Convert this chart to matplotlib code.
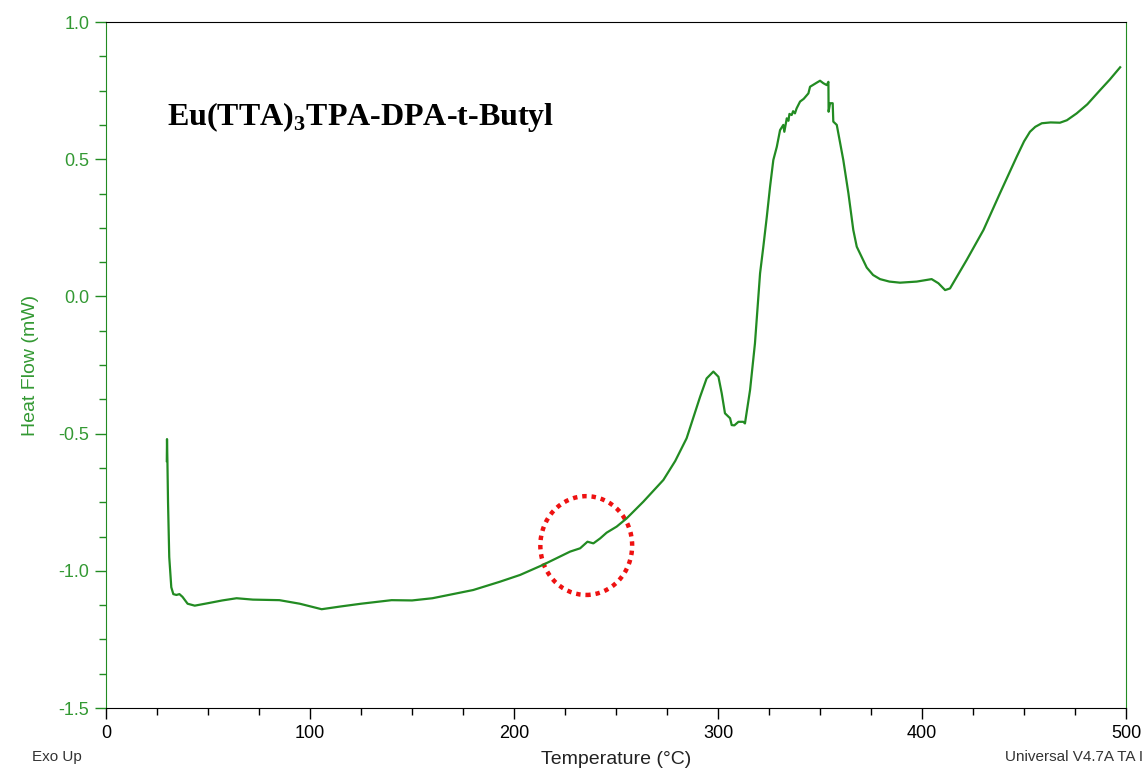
import matplotlib
matplotlib.use('Agg')
from matplotlib import pyplot as plt
from matplotlib.patches import Ellipse
from matplotlib.ticker import MultipleLocator, FormatStrFormatter

# DSC trace: temperature (°C) and heat flow (mW)
temperature = [29.8, 29.9, 30.1, 30.4, 31.0, 32.0, 33.0, 34.5, 36.0, 37.5,
               40.0, 43.5, 50.0, 57.0, 64.0, 72.0, 85.0, 95.0, 105.7, 115.0,
               125.0, 140.0, 150.0, 160.0, 170.0, 180.0, 193.0, 203.0, 214.0, 227.5,
               232.4, 236.0, 238.9, 242.2, 245.4, 250.3, 255.2, 263.4, 273.2, 279.0,
               284.6, 291.2, 294.4, 297.7, 300.2, 301.8, 303.4, 305.9, 306.7, 308.0,
               310.0, 312.4, 313.2, 315.7, 318.1, 320.6, 322.2, 323.9, 325.5, 327.1,
               328.8, 330.4, 332.0, 332.5, 333.7, 334.5, 335.0, 336.1, 336.8, 337.7,
               338.5, 340.2, 342.0, 344.3, 345.1, 348.4, 350.0, 351.6, 353.3, 354.1,
               354.2, 354.9, 356.2, 356.5, 358.2, 361.4, 363.9, 366.3, 368.0, 370.0,
               372.9, 376.0, 379.4, 384.0, 389.2, 397.4, 404.7, 408.0, 411.3, 413.7,
               421.9, 430.1, 438.2, 446.4, 450.0, 452.9, 455.5, 458.7, 463.0, 467.6,
               471.0, 475.8, 481.0, 487.3, 492.0, 497.1]
heat_flow = [-0.60, -0.52, -0.60, -0.75, -0.95, -1.06, -1.085, -1.088, -1.085, -1.095,
             -1.12, -1.127, -1.118, -1.108, -1.100, -1.105, -1.107, -1.120, -1.140, -1.130,
             -1.120, -1.107, -1.108, -1.100, -1.085, -1.070, -1.040, -1.015, -0.979, -0.930,
             -0.918, -0.894, -0.900, -0.882, -0.861, -0.839, -0.809, -0.748, -0.669, -0.600,
             -0.517, -0.366, -0.299, -0.274, -0.293, -0.353, -0.426, -0.444, -0.469, -0.470,
             -0.457, -0.457, -0.463, -0.341, -0.171, 0.084, 0.181, 0.290, 0.400, 0.497,
             0.545, 0.606, 0.625, 0.600, 0.649, 0.640, 0.665, 0.661, 0.675, 0.667,
             0.685, 0.710, 0.720, 0.740, 0.764, 0.779, 0.786, 0.777, 0.770, 0.782,
             0.673, 0.704, 0.704, 0.637, 0.625, 0.497, 0.376, 0.242, 0.181, 0.150,
             0.105, 0.078, 0.063, 0.054, 0.050, 0.054, 0.063, 0.048, 0.023, 0.029,
             0.133, 0.242, 0.376, 0.509, 0.565, 0.600, 0.618, 0.631, 0.634, 0.633,
             0.642, 0.667, 0.700, 0.752, 0.790, 0.835]

# highlighted region (centre and extent)
mark_center = (235.4, -0.908)
mark_size = (45.0, 0.36)

title = 'Eu(TTA)$_\\mathrm{3}$TPA-DPA-t-Butyl'

GREEN = '#228B22'
LABEL_GREEN = '#339933'

plt.rcParams['font.family'] = ['Liberation Sans', 'DejaVu Sans']
plt.rcParams['axes.unicode_minus'] = False
plt.rcParams['mathtext.fontset'] = 'custom'
plt.rcParams['mathtext.rm'] = 'Liberation Serif:bold'

fig = plt.figure(figsize=(11.46, 7.72), dpi=100)
ax = fig.add_axes([0.0925, 0.0829, 0.8901, 0.8886])

ax.plot(temperature, heat_flow, color=GREEN, lw=1.6)

ax.add_patch(Ellipse(mark_center, mark_size[0], mark_size[1], fill=False,
                     edgecolor='#EE1111', lw=3.2, linestyle=(0, (1, 1.1))))

ax.text(0.06, 0.862, title, transform=ax.transAxes, fontsize=23,
        family='Liberation Serif', fontweight='bold', va='center')

ax.set_xlim(0, 500)
ax.set_ylim(-1.5, 1.0)
ax.xaxis.set_major_locator(MultipleLocator(100))
ax.xaxis.set_minor_locator(MultipleLocator(25))
ax.yaxis.set_major_locator(MultipleLocator(0.5))
ax.yaxis.set_minor_locator(MultipleLocator(0.125))
ax.yaxis.set_major_formatter(FormatStrFormatter('%.1f'))

ax.spines['left'].set_color(GREEN)
ax.spines['right'].set_color(GREEN)
ax.spines['top'].set_color('black')
ax.spines['bottom'].set_color('black')

ax.tick_params(axis='x', which='major', length=8, width=1, colors='black',
               labelsize=13, pad=4)
ax.tick_params(axis='x', which='minor', length=5, width=1, colors='black')
ax.tick_params(axis='y', which='major', length=8, width=1, colors=GREEN,
               labelcolor=LABEL_GREEN, labelsize=13, pad=4)
ax.tick_params(axis='y', which='minor', length=5, width=1, colors=GREEN)

ax.set_xlabel('Temperature (°C)', fontsize=14, color='#222222', labelpad=7)
ax.set_ylabel('Heat Flow (mW)', fontsize=14, color=LABEL_GREEN, labelpad=14)

fig.text(0.028, 0.019, 'Exo Up', fontsize=11, color='#333333', va='center')
fig.text(0.877, 0.019, 'Universal V4.7A TA I', fontsize=11, color='#333333',
         va='center')

plt.savefig('out.png', dpi=100)
